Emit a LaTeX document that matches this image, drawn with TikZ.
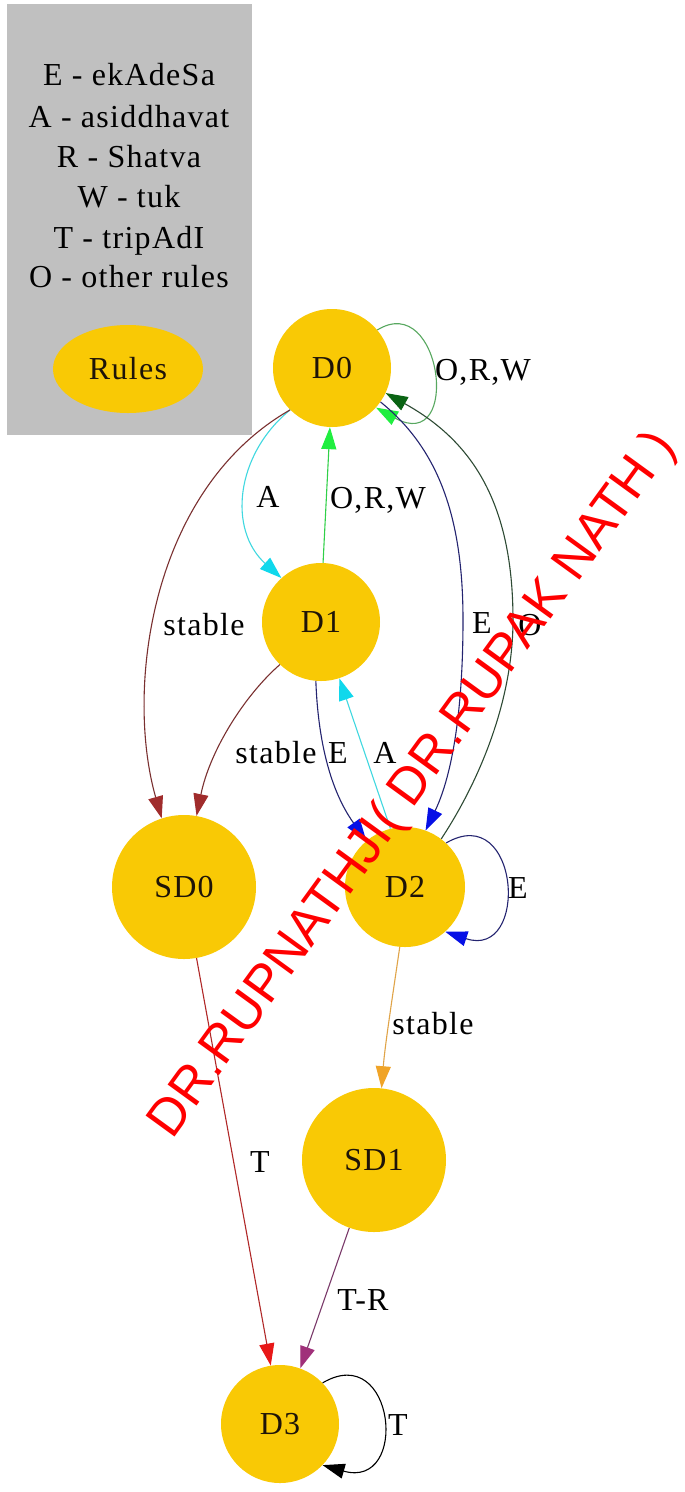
\documentclass[tikz,border=0pt]{standalone}
\usepackage{fontspec}
\setmainfont{Liberation Serif}[LetterSpace=4]
\newfontfamily\markfont{Liberation Sans}
\usetikzlibrary{arrows.meta,shapes.geometric}

\definecolor{nodegold}{HTML}{F9C905}
\definecolor{legendgray}{HTML}{C0C0C0}
\definecolor{brownline}{HTML}{7A3030}
\definecolor{brownhead}{HTML}{A02C2C}
\definecolor{cyanline}{HTML}{40D8E0}
\definecolor{cyanhead}{HTML}{10D8EC}
\definecolor{limeline}{HTML}{30D048}
\definecolor{limehead}{HTML}{20EE40}
\definecolor{loopline}{HTML}{58A860}
\definecolor{dgreenline}{HTML}{2E4A34}
\definecolor{dgreenhead}{HTML}{0A6414}
\definecolor{navyline}{HTML}{242470}
\definecolor{bluehead}{HTML}{0610E6}
\definecolor{orangeline}{HTML}{E0A448}
\definecolor{orangehead}{HTML}{F0A428}
\definecolor{redline}{HTML}{B02828}
\definecolor{redhead}{HTML}{E81818}
\definecolor{maroonline}{HTML}{7A3A6A}
\definecolor{maroonhead}{HTML}{A0307A}
\definecolor{labelink}{HTML}{1E1408}

\newcommand\lab{\fontsize{32}{36}\selectfont}

\tikzset{
  state/.style={circle, fill=nodegold, inner sep=0pt, minimum size=118pt,
                font=\lab, text=labelink},
  bigstate/.style={state, minimum size=144pt},
  lbl/.style={font=\lab, inner sep=0pt, anchor=base},
  edge/.style={line width=1.1pt},
  arrowto/.style={-{Triangle[length=22pt,width=15pt,color=#1]}},
  legendbox/.style={fill=legendgray, inner sep=0pt, anchor=north west},
  watermark/.style={anchor=base, rotate=54, inner sep=0pt, text=red,
                    font=\markfont\fontsize{52}{60}\selectfont}
}

\begin{document}
\begin{tikzpicture}[x=1pt,y=1pt]
  \fill[white] (0,0) rectangle (685,-1492);
  \useasboundingbox (0,0) rectangle (685,-1492);

  % legend panel
  \node[legendbox, minimum width=245pt, minimum height=431pt] (legend) at (7,-4) {};
  \node[lbl] (leg1) at (129,-85)  {E - ekAdeSa};
  \node[lbl] (leg2) at (129,-127) {A - asiddhavat};
  \node[lbl] (leg3) at (129,-167) {R - Shatva};
  \node[lbl] (leg4) at (129,-207) {W - tuk};
  \node[lbl] (leg5) at (129,-248) {T - tripAdI};
  \node[lbl] (leg6) at (129,-287) {O - other rules};
  \node[ellipse, fill=nodegold, inner sep=0pt, minimum width=150pt,
        minimum height=88pt, font=\lab, text=labelink] (rules) at (128,-369) {Rules};

  % states
  \node[state] (D0)  at (332,-368)  {D0};
  \node[state] (D1)  at (321,-622)  {D1};
  \node[bigstate] (SD0) at (184,-887) {SD0};
  \node[state, minimum size=120pt] (D2) at (405,-887) {D2};
  \node[bigstate] (SD1) at (374,-1160) {SD1};
  \node[state] (D3)  at (280,-1424) {D3};

  % transitions
  \draw[edge, loopline, arrowto=limehead]
    (D0.40) .. controls (442,-290) and (462,-455) .. (D0.-42);
  \draw[edge, cyanline, arrowto=cyanhead]
    (D0.225) .. controls (235,-455) and (228,-530) .. (D1.132);
  \draw[edge, limeline, arrowto=limehead] (D1.88) -- (D0.268);
  \draw[edge, brownline, arrowto=brownhead]
    (D0.225) .. controls (150,-490) and (125,-690) .. (SD0.108);
  \draw[edge, brownline, arrowto=brownhead]
    (D1.226) .. controls (245,-695) and (210,-750) .. (SD0.80);
  \draw[edge, navyline, arrowto=bluehead]
    (D1.265) .. controls (318,-740) and (330,-790) .. (D2.130);
  \draw[edge, cyanline, arrowto=cyanhead] (D2.104) -- (D1.-72);
  \draw[edge, navyline, arrowto=bluehead]
    (D0.-35) .. controls (440,-450) and (463,-520) .. (463,-620)
             .. controls (463,-720) and (450,-780) .. (D2.70);
  \draw[edge, dgreenline, arrowto=dgreenhead]
    (D2.53) .. controls (480,-780) and (513,-700) .. (513,-620)
            .. controls (513,-500) and (470,-440) .. (D0.-25);
  \draw[edge, navyline, arrowto=bluehead]
    (D2.47) .. controls (520,-800) and (530,-960) .. (D2.-48);
  \draw[edge, orangeline, arrowto=orangehead]
    (D2.-95) .. controls (392,-1000) and (385,-1045) .. (SD1.84);
  \draw[edge, redline, arrowto=redhead] (SD0.-80) -- (D3.99);
  \draw[edge, maroonline, arrowto=maroonhead] (SD1.-110) -- (D3.70);
  \draw[edge, black, arrowto=black]
    (D3.44) .. controls (395,-1340) and (410,-1490) .. (D3.-44);

  % transition labels
  \node[lbl] (l1)  at (483,-380)  {O,R,W};
  \node[lbl] (l2)  at (268,-507)  {A};
  \node[lbl] (l3)  at (378,-508)  {O,R,W};
  \node[lbl] (l4)  at (204,-635)  {stable};
  \node[lbl] (l5)  at (482,-633)  {E};
  \node[lbl] (l6)  at (530,-635)  {O};
  \node[lbl] (l7)  at (276,-763)  {stable};
  \node[lbl] (l8)  at (338,-763)  {E};
  \node[lbl] (l9)  at (385,-763)  {A};
  \node[lbl] (l10) at (518,-898)  {E};
  \node[lbl] (l11) at (433,-1034) {stable};
  \node[lbl] (l12) at (260,-1172) {T};
  \node[lbl] (l13) at (363,-1310) {T-R};
  \node[lbl] (l14) at (398,-1435) {T};

  % overlaid stamp
  \node[watermark] (mark) at (424.5,-793) {DR.RUPNATHJI( DR.RUPAK NATH )};
\end{tikzpicture}
\end{document}
